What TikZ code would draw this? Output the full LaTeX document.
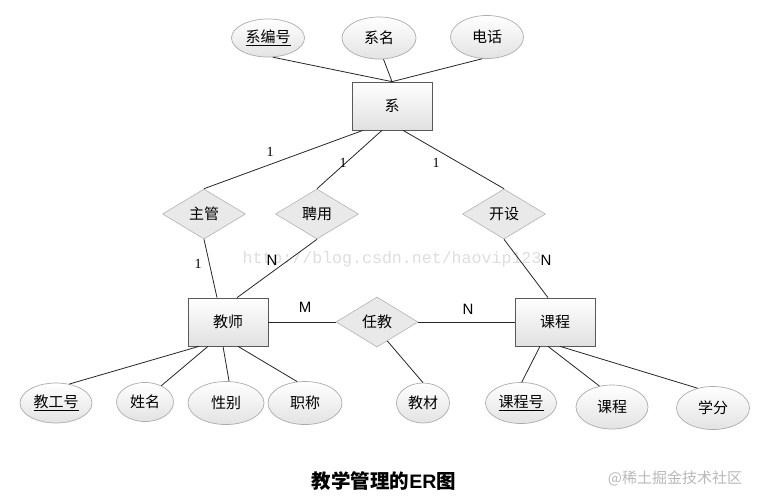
\documentclass[tikz,border=0pt]{standalone}
\usepackage{fontspec}
\setmainfont{Liberation Sans}
\newfontfamily\cjk{Noto Sans CJK SC}
\newfontfamily\monowm{Liberation Mono}
\newfontfamily\serifnum{Liberation Serif}
\usetikzlibrary{shapes.geometric,calc}
\begin{document}
\begin{tikzpicture}[x=1pt,y=-1pt,
  ent/.style={rectangle, draw=gray!70!black, line width=0.7pt, minimum width=80pt, minimum height=48pt, inner sep=0pt,
    top color=white, bottom color=gray!24, font=\cjk\fontsize{15}{15}\selectfont},
  attr/.style={ellipse, draw=gray!65, line width=0.7pt, minimum width=72pt, minimum height=41pt, inner sep=0pt,
    top color=white, bottom color=gray!22, font=\cjk\fontsize{15}{15}\selectfont},
  rel/.style={diamond, draw=gray!60, line width=0.6pt, fill=gray!17, minimum width=83pt, minimum height=50pt, inner sep=0pt,
    font=\cjk\fontsize{15}{15}\selectfont},
  conn/.style={draw=black!85, line width=0.8pt},
  one/.style={font=\serifnum\fontsize{14}{14}\selectfont, inner sep=0pt},
  card/.style={font=\fontsize{15}{15}\selectfont, inner sep=0pt}
]
\useasboundingbox[fill=white] (0,0) rectangle (762,499);

% watermark (behind)
\node[font=\monowm\fontsize{16.6}{16.6}\selectfont, text=gray!26, inner sep=0pt] (wm) at (392,259) {http://blog.csdn.net/haovip123};

% entities
\node[ent] (xi) at (392,106) {系};
\node[ent] (js) at (228,322) {教师};
\node[ent] (kc) at (555,322) {课程};

% relationships
\node[rel] (zg) at (204,214) {主管};
\node[rel] (py) at (317,214) {聘用};
\node[rel] (ks) at (504,214) {开设};
\node[rel, minimum width=82pt] (rj) at (377,322) {任教};

% attributes
\node[attr, minimum width=73pt, minimum height=38pt] (xbh) at (268,38) {\underline{系编号}};
\node[attr, minimum width=74pt, minimum height=42pt] (xm) at (379,38) {系名};
\node[attr, minimum width=73pt, minimum height=43pt] (dh) at (487,37) {电话};

\node[attr, minimum width=72pt, minimum height=40pt] (jgh) at (56,403) {\underline{教工号}};
\node[attr, minimum width=57pt, minimum height=39pt] (xmg) at (145,402) {姓名};
\node[attr, minimum width=76pt, minimum height=43pt] (xb) at (226,403) {性别};
\node[attr, minimum width=74pt, minimum height=43pt] (zc) at (305,403) {职称};

\node[attr, minimum width=53pt, minimum height=40pt] (jc) at (423,403) {教材};
\node[attr, minimum width=71pt, minimum height=41pt] (kch) at (521,403) {\underline{课程号}};
\node[attr, minimum width=72pt, minimum height=44pt] (kcm) at (612,407) {课程};
\node[attr, minimum width=73pt, minimum height=43pt] (xf) at (713,408) {学分};

% connectors: 系 attributes
\draw[conn] (xbh.-76) -- (xi.north);
\draw[conn] (xm.-78) -- (xi.north);
\draw[conn] (dh.-102) -- (xi.north);

% 系 to relationships
\draw[conn] ([xshift=-29pt]xi.south) -- (zg.north);
\draw[conn] ([xshift=-10pt]xi.south) -- (py.north);
\draw[conn] ([xshift=11pt]xi.south) -- (ks.north);

% relationships to entities
\draw[conn] (zg.south) -- ([xshift=-11pt]js.north);
\draw[conn] (py.south) -- ([xshift=9pt]js.north);
\draw[conn] (ks.south) -- ([xshift=-7pt]kc.north);
\draw[conn] (js.east) -- (rj.west);
\draw[conn] (rj.east) -- (kc.west);
\draw[conn] ($(rj.south)!0.25!(rj.east)$) -- (jc.north);

% 教师 attributes
\draw[conn] ([xshift=-29pt]js.south) -- (jgh.55);
\draw[conn] ([xshift=-20pt]js.south) -- (xmg.45);
\draw[conn] ([xshift=-5pt]js.south) -- (xb.82);
\draw[conn] ([xshift=10pt]js.south) -- (zc.110);

% 课程 attributes
\draw[conn] ([xshift=-15pt]kc.south) -- (kch.88);
\draw[conn] ([xshift=-7pt]kc.south) -- (kcm.121);
\draw[conn] ([xshift=5pt]kc.south) -- (xf.128);

% cardinalities
\node[one] (c1) at (270,152) {1};
\node[one] (c2) at (343,163) {1};
\node[one] (c3) at (436,163) {1};
\node[one] (c4) at (198,264) {1};
\node[card] (c5) at (272,260) {N};
\node[card] (c6) at (546,260) {N};
\node[card] (c7) at (305,307) {M};
\node[card] (c8) at (468,309) {N};

% title and corner watermark
\node[font=\cjk\bfseries\fontsize{19.5}{19.5}\selectfont, inner sep=0pt] (title) at (384,481) {教学管理的{\fontspec{Liberation Sans}\bfseries ER}图};
\node[font=\cjk\fontsize{15}{15}\selectfont, text=gray!55, inner sep=0pt] (jj) at (675,478) {@稀土掘金技术社区};
\end{tikzpicture}
\end{document}
